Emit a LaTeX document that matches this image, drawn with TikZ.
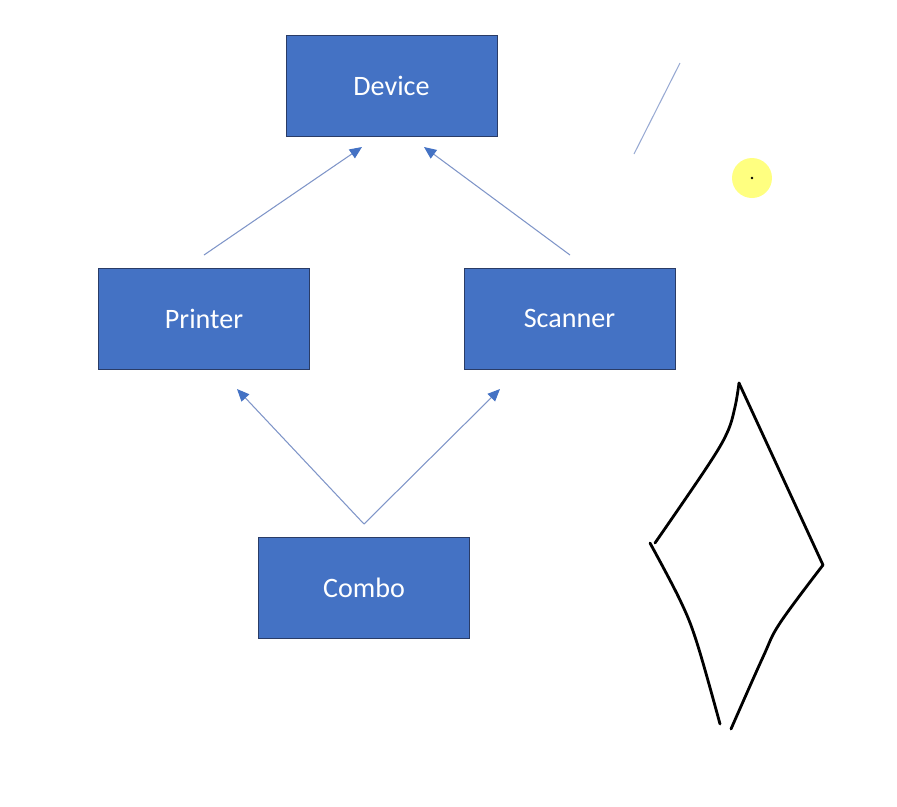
\documentclass[tikz,border=0pt]{standalone}
\usepackage{fontspec}
\setmainfont{Carlito}
\usetikzlibrary{arrows.meta}
\definecolor{boxblue}{HTML}{4472C4}
\definecolor{boxedge}{HTML}{2A3C66}
\definecolor{linkblue}{HTML}{7F95C8}
\definecolor{penyellow}{HTML}{FFFF80}
\tikzset{
  cls/.style={draw=boxedge, fill=boxblue, text=white, minimum width=4.22cm,
    minimum height=2.02cm, font=\fontsize{16}{19}\selectfont},
  link/.style={draw=linkblue, line width=0.6pt,
    -{Triangle[length=7pt,width=6pt,color=boxblue]}},
  ink/.style={line width=1.6pt, line cap=round, line join=round}
}
\begin{document}
\begin{tikzpicture}[x=0.02cm, y=-0.02cm]
\useasboundingbox (0,0) rectangle (897,806);
\node[cls] (device) at (391.5, 85.5) {Device};
\node[cls] (printer) at (204, 318.5) {Printer};
\node[cls] (scanner) at (569.5, 318.5) {Scanner};
\node[cls] (combo) at (364, 588) {Combo};

\coordinate (pfrom) at (204, 255);
\coordinate (sfrom) at (570, 255);
\coordinate (dleft) at (362, 147);
\coordinate (dright) at (424, 147);
\coordinate (cfrom) at (364, 524);
\coordinate (pto) at (237, 389);
\coordinate (sto) at (500, 389);

\draw [link] (pfrom) -- (dleft);
\draw [link] (sfrom) -- (dright);
\draw [link] (cfrom) -- (pto);
\draw [link] (cfrom) -- (sto);

% pen marks
\draw [linkblue!80, line width=0.6pt] (680, 63) -- (634, 154);
\fill [penyellow] (752, 178) circle (0.4cm);
\fill (752, 178) circle (0.8pt);

\draw [ink] plot[smooth, tension=0.6] coordinates {(655,543) (707,467) (727,433) (735,407) (739,383)};
\draw [ink] (739,383) -- (823,565);
\draw [ink] plot[smooth, tension=0.6] coordinates {(823,565) (780,623) (763,657) (731,729)};
\draw [ink] plot[smooth, tension=0.6] coordinates {(650,543) (680,600) (697,643) (720,724)};
\end{tikzpicture}
\end{document}
